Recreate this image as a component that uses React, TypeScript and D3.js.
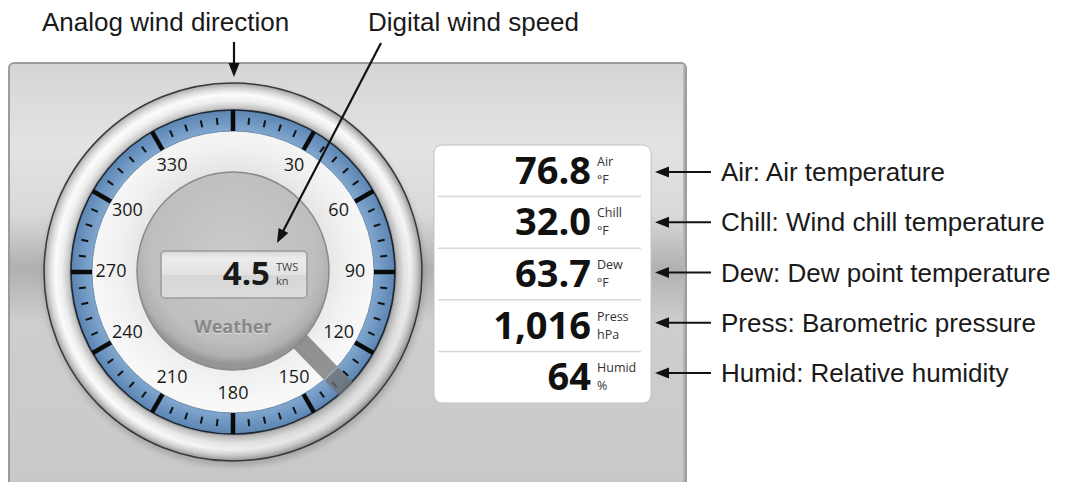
import React from 'react';
import * as d3 from 'd3';

// gauge readings
const windDirection = 136; // degrees, needle
const windSpeed = 4.5;
const windSpeedTags = ['TWS', 'kn'];
const gaugeTitle = 'Weather';
const directionLabels = [30, 60, 90, 120, 150, 180, 210, 240, 270, 300, 330];

// side panel readings
const readingNames = ['Air', 'Chill', 'Dew', 'Press', 'Humid'];
const readingValues = [76.8, 32.0, 63.7, 1016, 64];
const readingFormats = [',.1f', ',.1f', ',.1f', ',d', ',d'];
const readingUnits = ['°F', '°F', '°F', 'hPa', '%'];
const readingNotes = [
  'Air: Air temperature',
  'Chill: Wind chill temperature',
  'Dew: Dew point temperature',
  'Press: Barometric pressure',
  'Humid: Relative humidity',
];
const topNotes = ['Analog wind direction', 'Digital wind speed'];

const W = 1069;
const H = 482;
const cx = 233;
const cy = 272;
const UI_FONT = '"Open Sans", "DejaVu Sans", sans-serif';
const NOTE_FONT = '"Liberation Sans", Arial, sans-serif';

const angle = d3.scaleLinear().domain([0, 360]).range([0, 2 * Math.PI]);
const polar = (deg: number, r: number, ox = cx, oy = cy): [number, number] => [
  ox + r * Math.sin(angle(deg)),
  oy - r * Math.cos(angle(deg)),
];

// annulus centred on the origin, placed with a translate
const ring = (inner: number, outer: number) =>
  d3.arc()({ innerRadius: inner, outerRadius: outer, startAngle: 0, endAngle: 2 * Math.PI } as any) as string;

function Arrow({ x1, y1, x2, y2 }: { x1: number; y1: number; x2: number; y2: number }) {
  const head = 14;
  const half = 5.5;
  const len = Math.hypot(x2 - x1, y2 - y1);
  const ux = (x2 - x1) / len;
  const uy = (y2 - y1) / len;
  const bx = x2 - ux * head;
  const by = y2 - uy * head;
  const pts = [
    [x2, y2],
    [bx - uy * half, by + ux * half],
    [bx + uy * half, by - ux * half],
  ];
  return (
    <g>
      <line x1={x1} y1={y1} x2={bx + ux * 2} y2={by + uy * 2} stroke="#111" strokeWidth={2.2} />
      <polygon points={pts.map((p) => p.join(',')).join(' ')} fill="#111" />
    </g>
  );
}

const App: React.FC = () => {
  const majorTicks = d3.range(0, 360, 30);
  const minorTicks = d3.range(0, 360, 6).filter((d) => d % 30 !== 0);

  // rows of the readings box
  const rows = d3.scaleBand<string>().domain(readingNames).range([145, 403]);
  const notesY = d3.scalePoint<string>().domain(readingNames).range([172, 373]);

  return (
    <svg
      width={W}
      height={H}
      viewBox={`0 0 ${W} ${H}`}
      style={{ position: 'absolute', left: 0, top: 0, display: 'block', background: '#fff' }}
    >
      <defs>
        <linearGradient id="panelBg" gradientUnits="userSpaceOnUse" x1="0" y1="63" x2="0" y2="482">
          <stop offset="0" stopColor="#d5d5d5" />
          <stop offset="0.2" stopColor="#e3e3e3" />
          <stop offset="0.36" stopColor="#d9d9d9" />
          <stop offset="0.49" stopColor="#b0b0b0" />
          <stop offset="0.62" stopColor="#cecece" />
          <stop offset="1" stopColor="#c9c9c9" />
        </linearGradient>
        <radialGradient id="silver" gradientUnits="userSpaceOnUse" cx={0} cy={0} r={190}>
          <stop offset="0.85" stopColor="#7a7a7a" />
          <stop offset="0.865" stopColor="#bdbdbd" />
          <stop offset="0.9" stopColor="#ebebeb" />
          <stop offset="0.935" stopColor="#fbfbfb" />
          <stop offset="0.965" stopColor="#d4d4d4" />
          <stop offset="0.99" stopColor="#a0a0a0" />
          <stop offset="1" stopColor="#555" />
        </radialGradient>
        <linearGradient id="silverLight" x1="0" y1="0" x2="1" y2="1">
          <stop offset="0" stopColor="#fff" stopOpacity="0.3" />
          <stop offset="0.5" stopColor="#fff" stopOpacity="0" />
          <stop offset="1" stopColor="#000" stopOpacity="0.22" />
        </linearGradient>
        <radialGradient id="blueBand" gradientUnits="userSpaceOnUse" cx={0} cy={0} r={162}>
          <stop offset="0.87" stopColor="#82a7cd" />
          <stop offset="0.94" stopColor="#6c95c1" />
          <stop offset="1" stopColor="#5b84b1" />
        </radialGradient>
        <radialGradient id="dialFace" gradientUnits="userSpaceOnUse" cx={cx} cy={cy - 10} r={142}>
          <stop offset="0.6" stopColor="#e2e2e2" />
          <stop offset="0.8" stopColor="#f0f0f0" />
          <stop offset="1" stopColor="#f8f8f8" />
        </radialGradient>
        <radialGradient id="hub" cx="0.5" cy="0.42" r="0.55">
          <stop offset="0" stopColor="#cbcbcb" />
          <stop offset="0.8" stopColor="#bebebe" />
          <stop offset="0.93" stopColor="#b0b0b0" />
          <stop offset="1" stopColor="#959595" />
        </radialGradient>
        <linearGradient id="lcd" x1="0" y1="0" x2="0" y2="1">
          <stop offset="0" stopColor="#d6d6d6" />
          <stop offset="0.15" stopColor="#ececec" />
          <stop offset="0.5" stopColor="#e2e2e2" />
          <stop offset="0.52" stopColor="#d6d6d6" />
          <stop offset="1" stopColor="#dcdcdc" />
        </linearGradient>
        <filter id="soft" x="-10%" y="-10%" width="120%" height="120%">
          <feGaussianBlur stdDeviation="3" />
        </filter>
      </defs>

      {/* annotations above */}
      <text x={42} y={31} fontFamily={NOTE_FONT} fontSize={26} fill="#1a1a1a">
        {topNotes[0]}
      </text>
      <text x={368} y={31} fontFamily={NOTE_FONT} fontSize={26} fill="#1a1a1a">
        {topNotes[1]}
      </text>

      {/* instrument panel */}
      <rect x={9} y={63} width={677} height={440} rx={5} fill="url(#panelBg)" stroke="#9c9c9c" strokeWidth={2} />
      <line x1={684} y1={66} x2={684} y2={482} stroke="#b4b4b4" strokeWidth={2} />

      {/* gauge */}
      <circle cx={cx + 1} cy={cy + 4} r={190} fill="#000" opacity={0.18} filter="url(#soft)" />
      <g transform={`translate(${cx},${cy})`}>
        <path d={ring(161, 189)} fill="url(#silver)" />
        <path d={ring(161, 189)} fill="url(#silverLight)" />
        <circle r={189} fill="none" stroke="#3a3a3a" strokeWidth={1.5} />
      </g>
      <circle cx={cx} cy={cy} r={142} fill="url(#dialFace)" />
      <g transform={`translate(${cx},${cy})`}>
        <path d={ring(141, 162)} fill="url(#blueBand)" />
        <circle r={162} fill="none" stroke="#1e2833" strokeWidth={1.6} />
        <circle r={141} fill="none" stroke="#5b7da3" strokeWidth={0.8} />
      </g>

      {minorTicks.map((d) => {
        const [x1, y1] = polar(d, 148);
        const [x2, y2] = polar(d, 155);
        return <line key={`m${d}`} x1={x1} y1={y1} x2={x2} y2={y2} stroke="#111" strokeWidth={2} />;
      })}
      {majorTicks.map((d) => {
        const [x1, y1] = polar(d, 141);
        const [x2, y2] = polar(d, 162);
        return <line key={`M${d}`} x1={x1} y1={y1} x2={x2} y2={y2} stroke="#0a0a0a" strokeWidth={4.5} />;
      })}
      {directionLabels.map((d) => {
        const [x, y] = polar(d, 122, cx, cy - 2);
        return (
          <text
            key={`l${d}`}
            x={x}
            y={y}
            textAnchor="middle"
            dominantBaseline="central"
            fontFamily={UI_FONT}
            fontSize={18}
            fill="#1a1a1a"
          >
            {d}
          </text>
        );
      })}

      {/* needle */}
      <g transform={`translate(${cx},${cy}) rotate(${windDirection})`}>
        <rect x={-9.5} y={-163} width={19} height={103} fill="rgb(112,112,112)" fillOpacity={0.75} />
        <line x1={-9.5} y1={-141} x2={9.5} y2={-141} stroke="#c8d2dc" strokeWidth={1} opacity={0.7} />
      </g>

      {/* hub */}
      <ellipse cx={cx} cy={cy - 1} rx={96} ry={99} fill="url(#hub)" stroke="#8a8a8a" strokeWidth={1.5} />
      <rect x={161} y={251} width={146} height={47} rx={4} fill="url(#lcd)" stroke="#9b9b9b" strokeWidth={1.5} />
      <text x={270} y={285} textAnchor="end" fontFamily={UI_FONT} fontWeight={700} fontSize={33} fill="#1a1a1a">
        {windSpeed.toFixed(1)}
      </text>
      <text x={276} y={271} fontFamily={UI_FONT} fontSize={11} fill="#444">
        {windSpeedTags[0]}
      </text>
      <text x={276} y={285} fontFamily={UI_FONT} fontSize={11} fill="#444">
        {windSpeedTags[1]}
      </text>
      <text x={cx} y={334} textAnchor="middle" fontFamily={UI_FONT} fontWeight={700} fontSize={18} fill="#f4f4f4" opacity={0.6}>
        {gaugeTitle}
      </text>
      <text x={cx} y={333} textAnchor="middle" fontFamily={UI_FONT} fontWeight={700} fontSize={18} fill="#878787">
        {gaugeTitle}
      </text>

      {/* readings box */}
      <rect x={434} y={145} width={217} height={258} rx={8} fill="#fff" stroke="#c2c2c2" strokeWidth={1} />
      {readingNames.slice(1).map((n) => (
        <line key={`s${n}`} x1={438} x2={641} y1={rows(n)!} y2={rows(n)!} stroke="#d8d8d8" strokeWidth={1.5} />
      ))}
      {readingNames.map((n, i) => {
        const mid = rows(n)! + rows.bandwidth() / 2;
        return (
          <g key={`r${n}`}>
            <text x={591} y={mid + 13} textAnchor="end" fontFamily={UI_FONT} fontWeight={700} fontSize={38} fill="#111">
              {d3.format(readingFormats[i])(readingValues[i])}
            </text>
            <text x={597} y={mid - 5} fontFamily={UI_FONT} fontSize={12.5} fill="#333">
              {n}
            </text>
            <text x={597} y={mid + 13} fontFamily={UI_FONT} fontSize={12.5} fill="#333">
              {readingUnits[i]}
            </text>
          </g>
        );
      })}

      {/* annotation arrows */}
      <Arrow x1={234} y1={42} x2={234} y2={77} />
      <Arrow x1={381} y1={43} x2={277} y2={243} />
      {readingNames.map((n, i) => {
        const y = notesY(n)!;
        return (
          <g key={`n${n}`}>
            <Arrow x1={711} y1={y} x2={655} y2={y} />
            <text x={721} y={y + 9} fontFamily={NOTE_FONT} fontSize={26} fill="#1a1a1a">
              {readingNotes[i]}
            </text>
          </g>
        );
      })}
    </svg>
  );
};

export default App;
